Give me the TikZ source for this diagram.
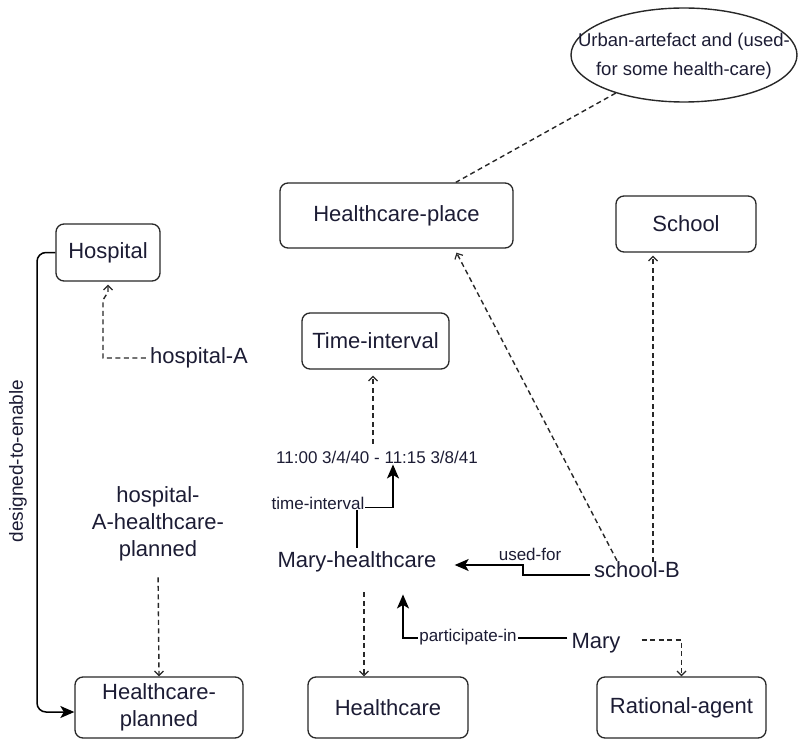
\documentclass[tikz,border=0pt]{standalone}
\usepackage{fontspec}
\setmainfont{Liberation Sans}
\usetikzlibrary{arrows.meta,shapes.geometric}
\definecolor{ink}{RGB}{28,28,52}
\definecolor{edge}{RGB}{40,40,40}
\begin{document}
\begin{tikzpicture}[x=1pt,y=-1pt,
  every node/.style={text=ink},
  big/.style={font=\fontsize{22}{27}\selectfont},
  small/.style={font=\fontsize{17}{20}\selectfont},
  concept/.style={big, draw=edge, line width=1.3pt, rounded corners=8pt, inner sep=0pt, align=center},
  inst/.style={big, inner sep=4pt, align=center},
  tag/.style={small, fill=white, inner sep=1pt},
  isa/.style={draw=edge, line width=1.4pt, dash pattern=on 5pt off 3.5pt,
              -{Straight Barb[length=4.5pt,width=9pt,line width=1.2pt]}},
  rel/.style={draw=black, line width=1.5pt, -{Stealth[length=14pt,width=12pt,inset=3.5pt]}}
]
\useasboundingbox (0,0) rectangle (798,741);

% class boxes
\node[concept, minimum width=233pt, minimum height=65pt] (hcplace)   at (396.5,215.5) {Healthcare-place};
\node[concept, minimum width=140pt, minimum height=56pt] (school)    at (686,224)     {School};
\node[concept, minimum width=104pt, minimum height=57pt] (hospital)  at (108,252.5)   {Hospital};
\node[concept, minimum width=147pt, minimum height=56pt] (timeint)   at (375.5,341)   {Time-interval};
\node[concept, minimum width=168pt, minimum height=61pt] (hcplanned) at (159,707.5)   {Healthcare-\\planned};
\node[concept, minimum width=160pt, minimum height=61pt] (healthcare) at (388,707.5)  {Healthcare};
\node[concept, minimum width=169pt, minimum height=61pt] (rational)  at (681.5,707.5) {Rational-agent};

% class expression
\node[draw=edge, line width=1.4pt, ellipse, minimum width=226pt, minimum height=94pt] (urban) at (684,55) {};
\node[font=\fontsize{18.5}{29}\selectfont, align=center, inner sep=0pt] (urbantext) at (684,56)
  {Urban-artefact and (used-\\for some health-care)};

% individuals
\node[inst] (hospA)   at (199,358) {hospital-A};
\node[inst] (hcaplan) at (158,524) {hospital-\\A-healthcare-\\planned};
\node[inst] (maryhc)  at (357,562) {Mary-healthcare};
\node[inst] (schoolB) at (637,570) {school-B};
\node[inst] (mary)    at (596,643) {Mary};
\node[small, inner sep=3pt] (date) at (377,457) {11:00 3/4/40 - 11:15 3/8/41};

% instance-of links
\draw[edge, line width=1.4pt, dash pattern=on 5pt off 3.5pt] (urban) -- (hcplace);
\coordinate (hA1) at (103,358);
\coordinate (hA2) at (103,300);
\coordinate (hA3) at (108,292);
\draw[isa] (hospA.west) -- (hA1) -- (hA2) -- (hA3) -- ([shift={(0,3)}]hospital.south);
\draw[isa, shorten <=12pt] (hcaplan.south) -- (hcplanned.north);
\draw[isa] ([shift={(-4,-4)}]date.north) -- ([shift={(-2.5,6)}]timeint.south);
\draw[isa] ([shift={(7,16)}]maryhc.south) -- ([shift={(-24,0)}]healthcare.north);
\draw[isa] ([shift={(-20,3)}]schoolB.north) -- ([shift={(60,4)}]hcplace.south);
\draw[isa] ([shift={(16,4)}]schoolB.north) -- ([shift={(-33,3)}]school.south);
\draw[isa] ([shift={(17,-3)}]mary.east) -| (rational.north);

% designed-to-enable
\coordinate (dtecorner) at (37,712);
\draw[rel, rounded corners=9pt] (hospital.west) -| (dtecorner) -- (hcplanned.west |- dtecorner);
\node[font=\fontsize{19}{22}\selectfont, rotate=90, inner sep=0pt] (dtelabel) at (18,461) {designed-to-enable};

% time-interval
\draw[rel] (maryhc.north) -- ++(0,-40) -| ([shift={(16,-2)}]date.south);
\node[tag] (tilabel) at (318,503) {time-interval};

% used-for
\coordinate (ufcorner) at (523,565);
\draw[rel] ([shift={(0,5)}]schoolB.west) -| (ufcorner) -- ([shift={(14,3)}]maryhc.east);
\node[small, inner sep=0pt] (uflabel) at (530,554) {used-for};

% participate-in
\draw[rel] ([shift={(0,-5)}]mary.west) -| ([shift={(46,18)}]maryhc.south);
\node[tag] (pilabel) at (468,637) {participate-in};

\end{tikzpicture}
\end{document}
